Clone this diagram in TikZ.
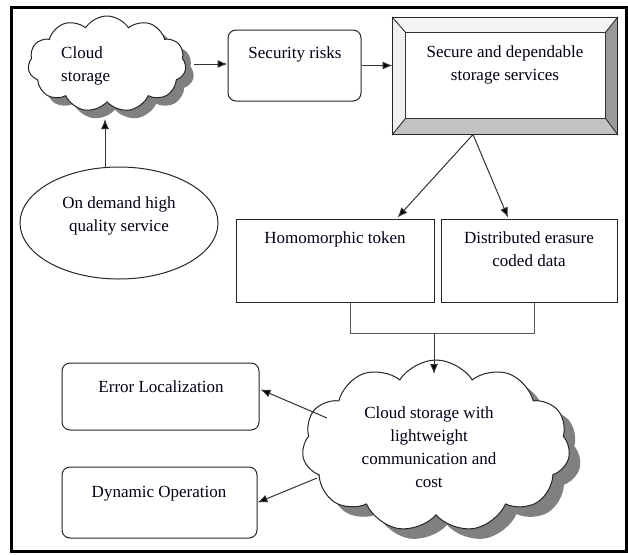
\documentclass[tikz,border=0pt]{standalone}
\usepackage{fontspec}
\setmainfont{Liberation Serif}
\usetikzlibrary{shapes.symbols,shapes.geometric,shadows,arrows.meta,calc}

\begin{document}
\begin{tikzpicture}[x=1pt,y=-1pt,
  txt/.style={font=\fontsize{17}{23}\selectfont, text=black!92!blue, inner sep=0pt, align=center, anchor=base},
  line/.style={draw=black!80, line width=1pt},
  arr/.style={line, -{Latex[length=10pt,width=8pt,fill=black]}},
  plainbox/.style={draw=black!85, line width=1pt, fill=white, inner sep=0pt},
  softbox/.style={plainbox, rounded corners=8pt},
  puff/.style={cloud, cloud puffs=11, cloud puff arc=115, cloud ignores aspect, draw=black!85, line width=1pt, fill=white, inner sep=0pt},
]
\useasboundingbox (0,0) rectangle (628,554);
\draw[line width=3pt] (11,7) rectangle (626,551);

% clouds (multi-line text is placed by the baseline of its last line)
\node[puff, minimum width=158pt, minimum height=96pt,
      drop shadow={shadow xshift=8pt, shadow yshift=-8pt, fill=black!50, opacity=1}] (cloudA) at (107,64) {};
\node[txt, align=left, anchor=base west] (cloudAtxt) at (61,81) {Cloud\\storage};

\node[puff, minimum width=268pt, minimum height=172pt,
      drop shadow={shadow xshift=11pt, shadow yshift=-10pt, fill=black!50, opacity=1}] (bigC) at (436,446) {};
\node[txt] (bigCtxt) at (429,487) {Cloud storage with\\lightweight\\communication and\\cost};

% top row boxes
\node[softbox, minimum width=133pt, minimum height=71pt] (sr) at (294.5,65.5) {};
\node[txt] (srtxt) at (295,58) {Security risks};

\node[plainbox, minimum width=224pt, minimum height=116pt] (sec) at (505,76) {};
\coordinate (siNW) at ($(sec.north west)+(13,15)$);
\coordinate (siNE) at ($(sec.north east)+(-12,15)$);
\coordinate (siSW) at ($(sec.south west)+(13,-16)$);
\coordinate (siSE) at ($(sec.south east)+(-12,-16)$);
\filldraw[fill=black!4, draw=black!80, line width=0.8pt] (sec.north west) -- (sec.north east) -- (siNE) -- (siNW) -- cycle;
\filldraw[fill=black!6, draw=black!80, line width=0.8pt] (sec.north west) -- (siNW) -- (siSW) -- (sec.south west) -- cycle;
\filldraw[fill=black!40, draw=black!80, line width=0.8pt] (sec.north east) -- (siNE) -- (siSE) -- (sec.south east) -- cycle;
\filldraw[fill=black!24, draw=black!80, line width=0.8pt] (sec.south west) -- (siSW) -- (siSE) -- (sec.south east) -- cycle;
\draw[black!85, line width=1pt] (sec.north west) rectangle (sec.south east);
\node[txt] (sectxt) at (505,80) {Secure and dependable\\storage services};

% ellipse
\node[ellipse, draw=black!85, line width=1pt, minimum width=198pt, minimum height=112pt, inner sep=0pt] (ell) at (119,223) {};
\node[txt] (elltxt) at (119,231) {On demand high\\quality service};

% middle boxes
\node[plainbox, minimum width=198pt, minimum height=83pt] (hom) at (335,260.5) {};
\node[txt] (homtxt) at (335,243) {Homomorphic token};
\node[plainbox, minimum width=176pt, minimum height=83pt] (dist) at (529,260.5) {};
\node[txt] (disttxt) at (529,266) {Distributed erasure\\coded data};

% bottom boxes
\node[softbox, minimum width=197pt, minimum height=67pt] (err) at (160.5,396.5) {};
\node[txt] (errtxt) at (161,392) {Error Localization};
\node[softbox, minimum width=195pt, minimum height=71pt] (dyn) at (159.5,502.5) {};
\node[txt] (dyntxt) at (159,497) {Dynamic Operation};

% connectors
\draw[arr] ($(cloudA.east)+(8,0)$) -- (cloudA.east -| sr.west);
\draw[arr] (sr.east) -- (sr.east -| sec.west);
\coordinate (ellTop) at ($(ell.north)+(-14,1)$);
\coordinate (cloudAfoot) at (105,119);
\draw[arr] (ellTop) -- (cloudAfoot);

\coordinate (fork) at ($(sec.south)+(-32,0)$);
\draw[arr] (fork) -- ($(hom.north east)+(-37,-1)$);
\draw[arr] (fork) -- ($(dist.north)+(-21,-1)$);

\coordinate (homFoot) at ($(hom.south)+(15,0)$);
\coordinate (distFoot) at ($(dist.south)+(5,0)$);
\draw[line, draw=black!65] (homFoot) -- ++(0,31) -| (distFoot);
\coordinate (join) at (434,333);
\coordinate (bigCtop) at (434,374);
\draw[arr] (join) -- (bigCtop);

\coordinate (toErr) at ($(bigC.center)+(-109,-28)$);
\coordinate (toDyn) at ($(bigC.center)+(-119,32)$);
\draw[arr] (toErr) -- ($(err.east)+(1,-7)$);
\draw[arr] (toDyn) -- (dyn.east);
\end{tikzpicture}
\end{document}
